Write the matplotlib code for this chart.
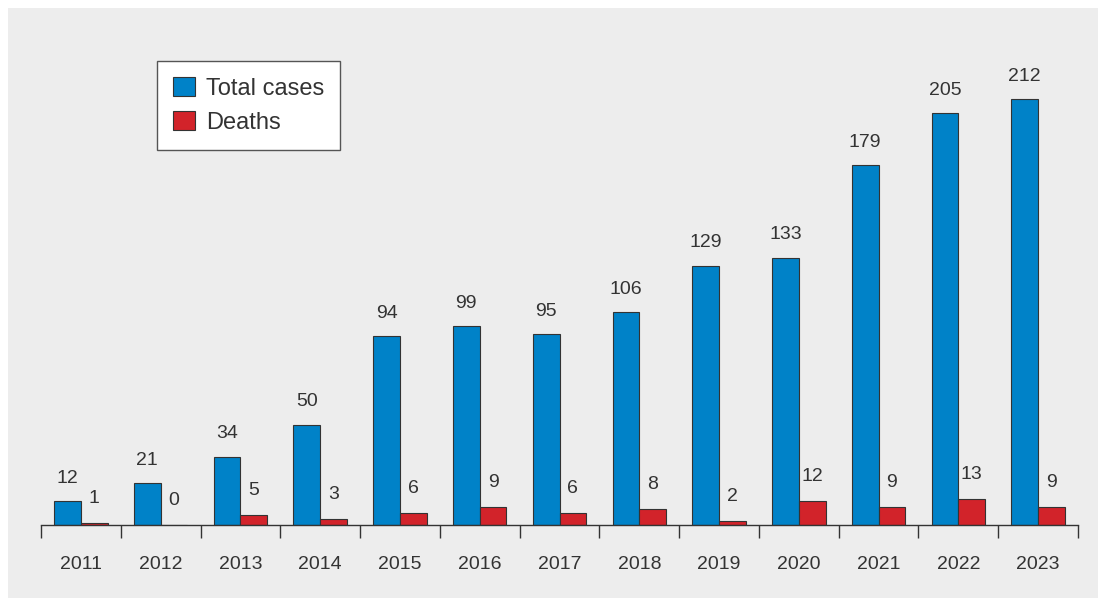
import matplotlib
matplotlib.use("Agg")
import matplotlib.pyplot as plt
from matplotlib.patches import Rectangle
import numpy as np

years = ["2011", "2012", "2013", "2014", "2015", "2016", "2017", "2018", "2019", "2020", "2021", "2022", "2023"]
total_cases = [12, 21, 34, 50, 94, 99, 95, 106, 129, 133, 179, 205, 212]
deaths = [1, 0, 5, 3, 6, 9, 6, 8, 2, 12, 9, 13, 9]

blue = "#0082c8"
red = "#d2232a"
txt = "#333333"
bg = "#ededed"

plt.rcParams['font.family'] = ['Liberation Sans', 'DejaVu Sans']

fig = plt.figure(figsize=(10.98, 6.04), dpi=100)
fig.patch.set_facecolor("white")
bgax = fig.add_axes([0, 0, 1, 1], zorder=-10)
bgax.set_axis_off()
bgax.set_xlim(0, 1098)
bgax.set_ylim(604, 0)
bgax.add_patch(Rectangle((8, 8), 1090, 590, facecolor=bg, edgecolor="none"))

ax = fig.add_axes([41/1098, 79/604, (1078-41)/1098, (525-42.6)/604], zorder=1)
ax.set_facecolor("none")
x = np.arange(len(years))
w = 0.335
ax.bar(x - w/2, total_cases, width=w, color=blue, edgecolor="#333333", linewidth=0.8, label="Total cases")
ax.bar(x + w/2, deaths, width=w, color=red, edgecolor="#333333", linewidth=0.8, label="Deaths")

for xi, v in zip(x, total_cases):
    ax.text(xi - w/2, v + 11.3, str(v), ha="center", va="center", fontsize=14, color=txt)
for xi, v in zip(x, deaths):
    ax.text(xi + w/2, v + 12.2, str(v), ha="center", va="center", fontsize=14, color=txt)

ax.set_xlim(-0.5, len(years) - 0.5)
ax.set_ylim(0, 240)
for s in ["top", "right", "left"]:
    ax.spines[s].set_visible(False)
ax.spines["bottom"].set_color("#333333")
ax.spines["bottom"].set_linewidth(1.0)
ax.set_yticks([])
ax.set_xticks(x)
ax.set_xticklabels(years, fontsize=14, color=txt)
ax.tick_params(axis="x", which="major", length=0, pad=22)
ax.set_xticks(np.arange(-0.5, len(years), 1), minor=True)
ax.tick_params(axis="x", which="minor", length=9, width=1.0, color="#333333")

leg = ax.legend(loc="upper left", bbox_to_anchor=((157-41)/1037, (525-61)/482.4),
                fontsize=17, frameon=True, fancybox=False, edgecolor="#555555",
                handlelength=0.93, handleheight=0.85, borderpad=0.68, labelspacing=0.5,
                handletextpad=0.45, borderaxespad=0)
leg.get_frame().set_linewidth(1.0)
leg.get_frame().set_facecolor("white")
leg.get_frame().set_alpha(1.0)
for t in leg.get_texts():
    t.set_color(txt)

fig.savefig("out.png", dpi=100, facecolor=fig.get_facecolor())
